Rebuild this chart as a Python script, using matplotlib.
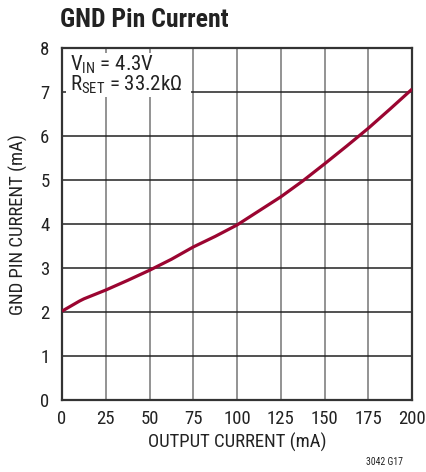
import matplotlib
matplotlib.use("Agg")
import matplotlib.pyplot as plt
import matplotlib.patches as patches

# curva
i_out = [0, 10, 12.5, 25, 37.5, 50, 62.5, 75, 87.5, 100, 112.5, 125, 137.5, 150, 162.5, 175, 187.5, 200]
i_gnd = [2.02, 2.25, 2.30, 2.50, 2.72, 2.95, 3.20, 3.48, 3.72, 3.98, 4.30, 4.62, 4.98, 5.37, 5.77, 6.18, 6.62, 7.07]

x_ticks = [0, 25, 50, 75, 100, 125, 150, 175, 200]
y_ticks = [0, 1, 2, 3, 4, 5, 6, 7, 8]

plt.rcParams['font.family'] = ['Roboto Condensed', 'DejaVu Sans']
plt.rcParams['mathtext.fontset'] = 'custom'
plt.rcParams['mathtext.rm'] = 'Roboto Condensed'
plt.rcParams['mathtext.it'] = 'Roboto Condensed'

txt = '#222222'

fig = plt.figure(figsize=(4.26, 4.72), dpi=100)
ax = fig.add_axes([0.1455, 0.1525, 0.822, 0.7455])

ax.set_xlim(0, 200)
ax.set_ylim(0, 8)
ax.set_xticks(x_ticks)
ax.set_yticks(y_ticks)
ax.tick_params(length=0, labelsize=13.5, colors=txt)
ax.tick_params(axis='y', pad=9)
ax.tick_params(axis='x', pad=7)

# rejilla: verticales grises, horizontales oscuras
for xv in x_ticks[1:-1]:
    ax.axvline(xv, color='#8a8a8a', lw=1.3, zorder=1)
for yv in y_ticks[1:-1]:
    ax.axhline(yv, color='#222222', lw=1.1, zorder=1)

for s in ax.spines.values():
    s.set_color('#333333')
    s.set_linewidth(1.6)

ax.plot(i_out, i_gnd, color='#9b0531', lw=2.3, zorder=3, solid_capstyle='butt')

# recuadro blanco de condiciones
ax.add_patch(patches.Rectangle((2.3, 6.89), 71.5, 1.0, facecolor='white', edgecolor='none', zorder=2))
ax.text(4.6, 7.62, r'V$_{\mathregular{IN}}$ = 4.3V', fontsize=15, va='center', ha='left', color=txt, zorder=4)
ax.text(4.6, 7.16, r'R$_{\mathregular{SET}}$ = 33.2k$\mathregular{\Omega}$', fontsize=15, va='center', ha='left', color=txt, zorder=4)

ax.set_xlabel('OUTPUT CURRENT (mA)', fontsize=13.5, color=txt, labelpad=4)
ax.set_ylabel('GND PIN CURRENT (mA)', fontsize=13.5, color=txt, labelpad=9)

fig.text(0.141, 0.943, 'GND Pin Current', fontsize=18.5, fontweight='bold', color=txt, va='baseline')
fig.text(0.946, 0.015, '3042 G17', fontsize=7, ha='right', va='baseline', color=txt)

fig.savefig('out.png', dpi=100)
